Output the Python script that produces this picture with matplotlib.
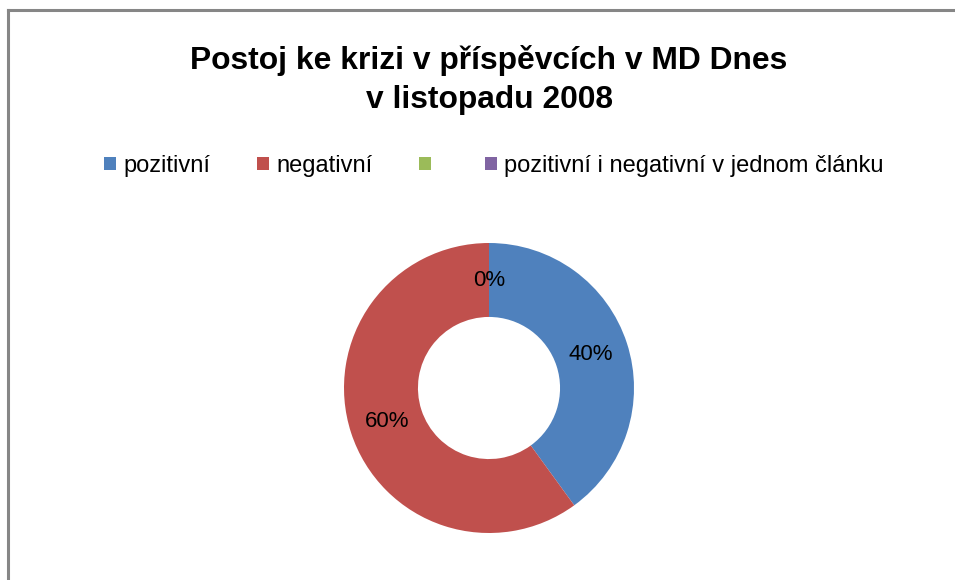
import matplotlib
matplotlib.use("Agg")
import matplotlib.pyplot as plt
import numpy as np
from matplotlib.patches import Patch
from matplotlib.lines import Line2D

plt.rcParams['font.family'] = ['Liberation Sans', 'DejaVu Sans']

# data
categories = ['pozitivní', 'negativní', '', 'pozitivní i negativní v jednom článku']
values = [40, 60, 0, 0]
colors = ['#4F81BD', '#C0504D', '#9BBB59', '#8064A2']
title = 'Postoj ke krizi v příspěvcích v MD Dnes\nv listopadu 2008'

W, H = 955, 580
fig = plt.figure(figsize=(W / 100, H / 100), dpi=100)

# chart border (only top and left are visible in the crop)
fig.add_artist(Line2D([8 / W, 8 / W], [0, 1 - 10 / H], color='#868686', lw=2.2))
fig.add_artist(Line2D([8 / W, 1], [1 - 10 / H, 1 - 10 / H], color='#868686', lw=2.2))

fig.text(489 / W, 1 - 80 / H, title, ha='center', va='center',
         fontsize=22.9, fontweight='bold', linespacing=1.35)

# donut
cx, cy, r = 489, 388, 145
ax = fig.add_axes([(cx - r) / W, (H - cy - r) / H, 2 * r / W, 2 * r / H])
wedges, _ = ax.pie(values, colors=colors, startangle=90, counterclock=False,
                   radius=1.0, wedgeprops=dict(width=0.51, linewidth=0))
ax.set_xlim(-1, 1)
ax.set_ylim(-1, 1)
ax.set_aspect('equal')
ax.axis('off')

total = sum(values)
ang = 90.0
placed = set()
for v in values:
    frac = v / total
    mid = ang - frac * 360 / 2
    ang -= frac * 360
    key = round(mid % 360, 3)
    if key in placed:
        continue  # zero slices sit on top of each other
    placed.add(key)
    rr = 0.74
    ax.text(rr * np.cos(np.radians(mid)), rr * np.sin(np.radians(mid)),
            '%d%%' % round(frac * 100), ha='center', va='center', fontsize=16)

handles = [Patch(facecolor=c, edgecolor='none') for c in colors]
fig.legend(handles, categories, loc='center', bbox_to_anchor=(494 / W, 1 - 166 / H),
           ncol=4, frameon=False, fontsize=17, handlelength=0.5, handleheight=0.5,
           handletextpad=0.3, columnspacing=2.0)

fig.savefig('out.png', dpi=100)
